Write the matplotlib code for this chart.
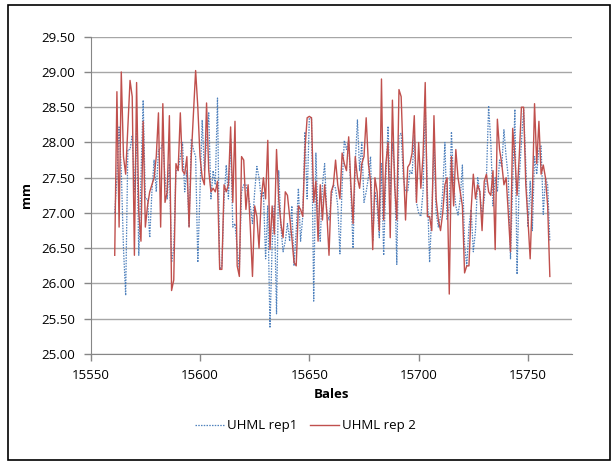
import numpy as np
import matplotlib
matplotlib.use("Agg")
import matplotlib.pyplot as plt
from matplotlib.patches import Rectangle

plt.rcParams['font.family'] = ['Open Sans', 'DejaVu Sans']
plt.rcParams['font.size'] = 9.5

# UHML values, bales 15561 onwards
rep1 = [27.00, 27.50, 28.22, 27.60, 26.50, 25.83, 27.90, 27.90, 28.10, 27.30,
        28.20, 26.40, 27.50, 28.60, 27.20, 27.20, 26.65, 27.30, 27.75, 27.30,
        27.90, 27.90, 28.00, 27.50, 27.20, 27.70, 26.30, 26.50, 27.60, 27.60,
        27.80, 28.00, 27.30, 27.60, 26.80, 28.05, 27.90, 27.80, 26.30, 27.30,
        28.32, 27.60, 28.00, 28.42, 27.20, 27.60, 27.40, 28.63, 26.20, 26.25,
        27.20, 27.68, 27.20, 28.05, 26.80, 26.85, 26.50, 26.20, 27.30, 27.40,
        27.40, 27.25, 27.10, 26.85, 27.30, 27.66, 27.50, 27.20, 27.30, 26.35,
        27.10, 25.37, 26.55, 27.10, 25.57, 27.60, 26.80, 26.45, 26.60, 26.85,
        26.60, 27.10, 26.25, 26.75, 27.35, 26.60, 26.95, 28.15, 27.20, 28.35,
        28.35, 25.75, 27.85, 26.90, 26.60, 27.40, 27.70, 27.00, 26.90, 27.20,
        27.40, 27.35, 27.10, 26.42, 27.40, 28.03, 27.90, 28.03, 27.30, 26.50,
        27.70, 28.32, 27.60, 28.00, 27.15, 27.30, 27.50, 27.80, 26.60, 27.30,
        27.10, 26.65, 27.70, 26.40, 27.50, 28.23, 27.25, 28.00, 27.60, 26.27,
        28.10, 28.13, 27.50, 27.30, 27.30, 27.60, 27.55, 28.10, 27.15, 27.00,
        26.95, 27.30, 28.55, 27.30, 26.30, 27.00, 27.95, 27.00, 26.80, 26.95,
        27.30, 28.00, 26.90, 27.10, 28.15, 27.40, 27.10, 26.97, 27.20, 27.68,
        26.55, 26.25, 26.80, 27.05, 26.45, 26.75, 27.50, 27.30, 26.95, 27.20,
        27.50, 28.52, 28.00, 27.10, 27.50, 27.30, 27.75, 27.65, 28.18, 27.80,
        27.50, 26.35, 27.40, 28.47, 26.13, 27.50, 28.00, 28.47, 27.70, 26.80,
        27.45, 26.75, 27.80, 27.55, 27.90, 27.95, 26.98, 27.50, 27.40, 26.60]

rep2 = [26.40, 28.72, 26.80, 29.00, 27.80, 27.55, 28.20, 28.88, 28.65, 26.40,
        28.85, 27.00, 26.60, 28.30, 26.80, 27.10, 27.30, 27.40, 27.50, 27.80,
        28.42, 26.80, 28.55, 27.15, 27.30, 28.38, 25.90, 26.05, 27.70, 27.60,
        28.42, 27.60, 27.55, 27.80, 26.80, 27.80, 28.40, 29.02, 28.50, 27.80,
        27.50, 27.40, 28.56, 27.60, 27.30, 27.35, 27.30, 27.45, 26.20, 26.20,
        27.40, 27.30, 27.40, 28.22, 27.15, 28.30, 26.25, 26.10, 27.80, 27.75,
        27.05, 27.40, 26.80, 26.10, 27.10, 26.95, 26.50, 27.20, 27.50, 27.20,
        28.03, 26.48, 27.10, 26.70, 27.90, 27.20, 26.85, 26.65, 27.30, 27.25,
        26.95, 26.65, 26.30, 26.25, 27.10, 27.05, 26.95, 27.90, 28.35, 28.37,
        28.35, 27.15, 27.45, 26.60, 27.40, 26.90, 27.40, 27.00, 26.40, 27.30,
        27.40, 27.75, 27.40, 27.20, 27.85, 27.70, 27.60, 28.08, 27.40, 26.85,
        27.80, 27.50, 27.35, 27.70, 27.80, 28.35, 27.70, 27.45, 26.48, 27.50,
        27.30, 26.75, 28.90, 26.90, 27.70, 28.00, 26.65, 28.60, 27.40, 26.90,
        28.75, 28.65, 27.70, 26.90, 27.65, 27.70, 27.85, 28.38, 27.15, 28.00,
        27.35, 27.80, 28.85, 26.95, 26.95, 26.75, 28.38, 27.20, 26.90, 26.75,
        27.00, 27.40, 27.50, 25.85, 27.80, 27.10, 27.90, 27.50, 27.30, 27.10,
        26.15, 26.25, 26.25, 27.05, 27.55, 27.20, 27.40, 27.30, 26.75, 27.45,
        27.55, 27.30, 27.25, 27.60, 26.48, 28.33, 27.90, 27.70, 27.40, 27.50,
        27.00, 26.45, 28.20, 27.80, 27.25, 27.80, 28.50, 28.50, 27.40, 26.90,
        26.35, 27.25, 28.55, 27.70, 28.30, 27.55, 27.68, 27.50, 27.10, 26.10]

bales1 = np.arange(15561, 15561 + len(rep1))
bales2 = np.arange(15561, 15561 + len(rep2))

fig = plt.figure(figsize=(6.11, 4.61), dpi=100)
ax = fig.add_axes([0.1484, 0.2321, 0.7873, 0.6883])

ax.plot(bales1, rep1, color='#4f81bd', lw=0.9, ls=(0, (1.2, 1.0)), label='UHML rep1')
ax.plot(bales2, rep2, color='#c0504d', lw=1.0, label='UHML rep 2')

ax.set_xlim(15550, 15770)
ax.set_ylim(25, 29.5)
ax.set_xticks([15550, 15600, 15650, 15700, 15750])
ax.set_yticks(np.arange(25, 29.51, 0.5))
ax.set_yticklabels(['%.2f' % v for v in np.arange(25, 29.51, 0.5)])
ax.grid(axis='y', color='#a6a6a6', lw=1)
ax.set_axisbelow(True)
for s in ['top', 'right']:
    ax.spines[s].set_visible(False)
for s in ['left', 'bottom']:
    ax.spines[s].set_color('#868686')
ax.tick_params(axis='both', direction='out', length=5, color='#868686', width=1, pad=6)

ax.set_xlabel('Bales', fontweight='bold', labelpad=4)
ax.set_ylabel('mm', fontweight='bold', labelpad=6)

fig.legend(loc='center', bbox_to_anchor=(0.5, 0.076), ncol=2, frameon=False,
           handlelength=2.2, columnspacing=1.0, handletextpad=0.2)

fig.patches.append(Rectangle((8 / 611, 1 - 460 / 461), 602 / 611, 455 / 461,
                             transform=fig.transFigure, fill=False, ec='black', lw=1.2))

fig.savefig('out.png', dpi=100)
